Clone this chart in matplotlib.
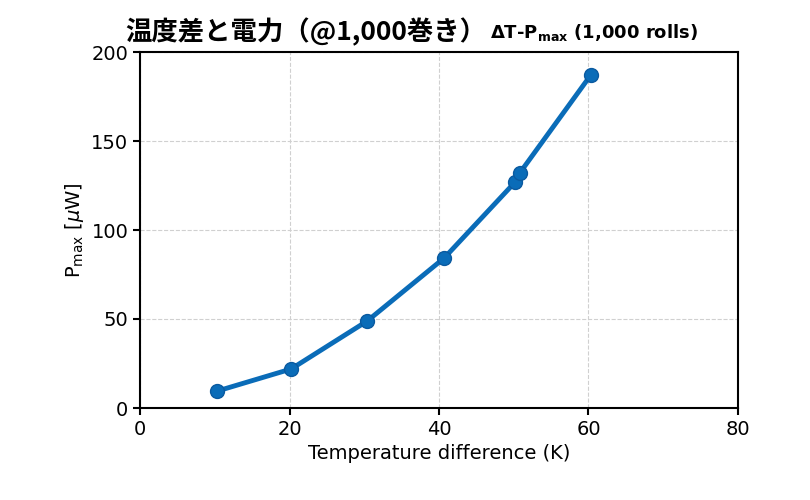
import matplotlib.pyplot as plt

# data
delta_t = [10.3, 20.2, 30.4, 40.7, 50.2, 50.8, 60.3]
p_max = [9.5, 21.9, 48.9, 84.3, 127, 132, 187]
x_ticks = [0, 20, 40, 60, 80]
y_ticks = [0, 50, 100, 150, 200]

fig = plt.figure(figsize=(8.1, 5), dpi=100)
ax = fig.add_axes([0.173, 0.184, 0.738, 0.712])

ax.plot(delta_t, p_max, color="#0a6cb8", lw=3.5, marker="o", ms=10,
        markeredgecolor="#0a5aa0", solid_capstyle="round")

ax.set_xlim(0, 80)
ax.set_ylim(0, 200)
ax.set_xticks(x_ticks)
ax.set_yticks(y_ticks)
ax.grid(True, ls="--", color="#d0d0d0", lw=0.8)
ax.tick_params(labelsize=14, direction="out", length=5, width=1.5)
for s in ax.spines.values():
    s.set_linewidth(1.5)

ax.set_xlabel("Temperature difference (K)", fontsize=14)
ax.set_ylabel(r"P$_{\mathrm{max}}$ [$\mu$W]", fontsize=14)

fig.text(0.155, 0.935, "温度差と電力（@1,000巻き）", fontsize=19,
         fontfamily="Noto Sans CJK JP", fontweight="bold", va="center")
fig.text(0.605, 0.935, r"ΔT-P$_{\mathbf{max}}$ (1,000 rolls)", fontsize=13,
         fontweight="bold", va="center")

fig.savefig("out.png", dpi=100)
